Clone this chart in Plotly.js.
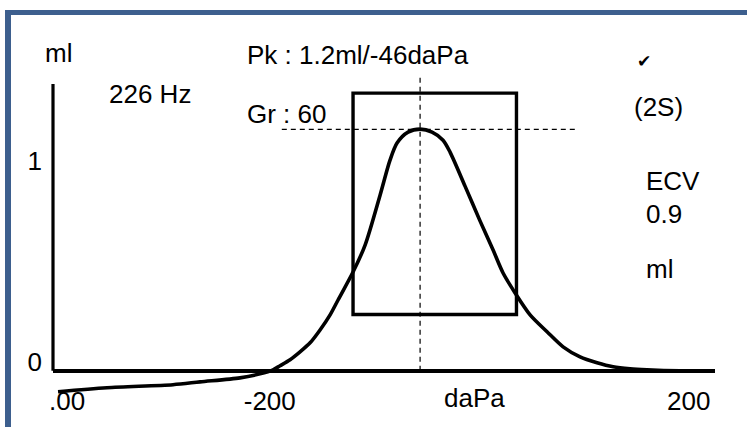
<!DOCTYPE html>
<html><head><meta charset="utf-8">
<script src="https://cdn.plot.ly/plotly-3.0.1.min.js"></script>
<style>html,body{margin:0;padding:0;background:#fff}#chart{width:747px;height:427px}</style>
</head><body><div id="chart"></div>
<script>
// ---- data ----
const pressure = [-391.6,-344.9,-281.9,-256.0,-217.9,-198.8,-186.4,-179.7,-170.1,-160.6,-151.0,-141.5,-131.9,-124.3,-110.0,-98.5,-84.2,-74.7,-68.0,-57.5,-46.0,-34.6,-24.1,-17.4,-3.1,11.3,23.7,33.2,44.7,59.0,75.2,90.5,106.7,122.9,138.2,154.4,170.6,202.1,235.5];
const compliance = [-0.104,-0.084,-0.069,-0.055,-0.035,-0.015,0.005,0.025,0.055,0.094,0.139,0.203,0.278,0.352,0.491,0.625,0.873,1.047,1.132,1.186,1.201,1.186,1.146,1.087,0.918,0.744,0.600,0.486,0.387,0.278,0.194,0.119,0.069,0.040,0.020,0.010,0.005,0.0,0.0];
const xTickVals = [-200, 200];
const xTickText = ['-200', '200'];
const xClippedLabel = '.00';
const yTickVals = [0, 1];
const yTickText = ['0', '1'];
const peakPressure = -46;
const peakCompliance = 1.2;
const boxPressure = [-110, 46];
const boxCompliance = [0.28, 1.38];
const gradLineX = [-178, 103];
const peakLineTop = 1.46;
const yAxisTop = 1.426;
const xRange = [-396.4, 235.5];
const yRange = [-0.16, 1.50];

// ---- layout helpers (pixel -> paper) ----
const W = 747, H = 427, L = 53, R = 32, T = 69, B = 24;
const PW = W - L - R, PH = H - T - B;
const px = x => (x - L) / PW;
const py = y => (H - B - y) / PH;
const FONT = 'Liberation Sans, Arial, sans-serif';
const FS = 26;
function label(text, left, baseline, size) {
  return {text: text, xref: 'paper', yref: 'paper', x: px(left), y: py(baseline - 9),
          xanchor: 'left', yanchor: 'middle', showarrow: false,
          font: {family: FONT, size: size || FS, color: '#000'}};
}

const trace = {
  x: pressure, y: compliance, type: 'scatter', mode: 'lines',
  line: {color: '#000', width: 3.6, shape: 'spline', smoothing: 0.8},
  hoverinfo: 'skip', showlegend: false
};

const blue = '#3d5f8e';
const shapes = [
  {type: 'line', xref: 'paper', yref: 'paper', x0: px(5), x1: px(747), y0: py(12.5), y1: py(12.5), line: {color: blue, width: 5}},
  {type: 'line', xref: 'paper', yref: 'paper', x0: px(8), x1: px(8), y0: py(10), y1: py(427), line: {color: blue, width: 6}},
  {type: 'line', xref: 'paper', yref: 'y', x0: 0, x1: 0, y0: 0, y1: yAxisTop, line: {color: '#000', width: 3.2}},
  {type: 'rect', xref: 'x', yref: 'y', x0: boxPressure[0], x1: boxPressure[1], y0: boxCompliance[0], y1: boxCompliance[1], line: {color: '#000', width: 3.4}},
  {type: 'line', xref: 'x', yref: 'y', x0: gradLineX[0], x1: gradLineX[1], y0: peakCompliance, y1: peakCompliance, line: {color: '#000', width: 1.2, dash: '5px,4px'}},
  {type: 'line', xref: 'x', yref: 'y', x0: peakPressure, x1: peakPressure, y0: 0, y1: peakLineTop, line: {color: '#000', width: 1.2, dash: '5px,4px'}}
];

const annotations = [
  label('ml', 43, 62),
  label('Pk : 1.2ml/-46daPa', 245, 64),
  label('226 Hz', 107, 103),
  label('Gr : 60', 245, 123),
  label('(2S)', 632, 116),
  label('ECV', 644, 190),
  label('0.9', 644, 223),
  label('ml', 644, 278),
  label('daPa', 442, 407),
  label(xClippedLabel, 47, 410),
  {text: '\u2714', xref: 'paper', yref: 'paper', x: px(644), y: py(61), xanchor: 'center', yanchor: 'middle',
   showarrow: false, font: {family: 'DejaVu Sans', size: 17, color: '#000'}}
];

const layout = {
  width: W, height: H,
  margin: {l: L, r: R, t: T, b: B, pad: 0},
  paper_bgcolor: '#fff', plot_bgcolor: '#fff',
  showlegend: false,
  xaxis: {range: xRange, anchor: 'free', position: (0 - yRange[0]) / (yRange[1] - yRange[0]),
          showline: true, linecolor: '#000', linewidth: 4.2, showgrid: false, zeroline: false,
          ticks: '', tickvals: xTickVals, ticktext: xTickText, ticklabelshift: 11, ticklabelstandoff: 6,
          tickfont: {family: FONT, size: FS, color: '#000'}, fixedrange: true},
  yaxis: {range: yRange, showline: false, showgrid: false, zeroline: false,
          ticks: '', tickvals: yTickVals, ticktext: yTickText, ticklabelshift: -9, ticklabelstandoff: 10,
          tickfont: {family: FONT, size: FS, color: '#000'}, fixedrange: true},
  shapes: shapes,
  annotations: annotations
};

Plotly.newPlot('chart', [trace], layout, {displayModeBar: false, staticPlot: true});
</script>
</body></html>
